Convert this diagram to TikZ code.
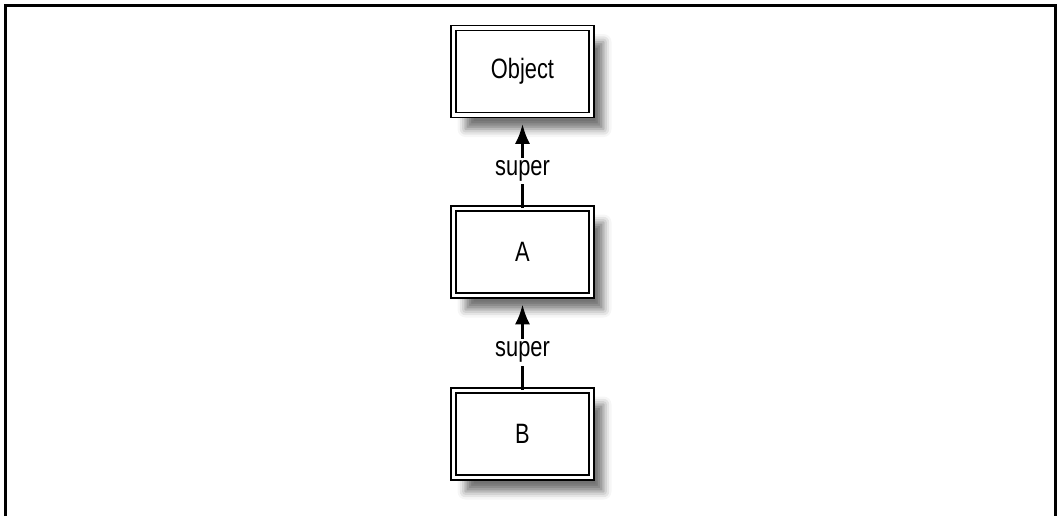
\documentclass[tikz,border=0pt]{standalone}
\usepackage{fontspec}
\setmainfont{Liberation Sans}[FakeStretch=0.78]
\usetikzlibrary{positioning,arrows.meta,shadows.blur}
\tikzset{
	classbox/.style={draw=black,line width=0.8pt,double=white,double distance=1.6pt,
		fill=white,minimum width=69pt,minimum height=43.5pt,font=\fontsize{14}{16}\selectfont,
		blur shadow={shadow xshift=6pt,shadow yshift=-7pt,shadow blur radius=4pt,shadow opacity=55}},
	superarrow/.style={-{Latex[length=10pt,width=7.5pt]},line width=1.5pt,shorten >=4pt},
	superlabel/.style={fill=white,inner sep=1.5pt,font=\fontsize{14}{16}\selectfont}
}
\begin{document}
\begin{tikzpicture}[x=0.5pt,y=-0.5pt]
	\useasboundingbox(0,0)rectangle(1058,516);
	\draw[line width=1.5pt](5,516)--(5,5)--(1055,5)--(1055,516);
	\node[classbox](object)at(522.5,71.5){Object};
	\node[classbox](a)at(522.5,252){A};
	\node[classbox](b)at(522.5,434){B};
	\draw[superarrow](a.north)--node[superlabel,pos=0.4]{super}(object.south);
	\draw[superarrow](b.north)--node[superlabel,pos=0.4]{super}(a.south);
\end{tikzpicture}
\end{document}
